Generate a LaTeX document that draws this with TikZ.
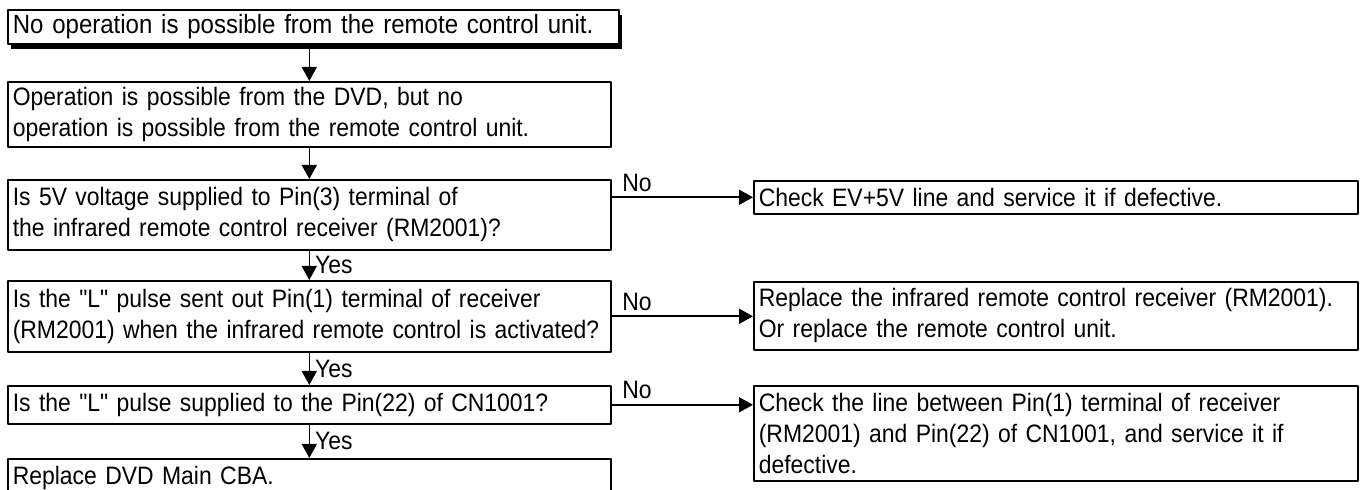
\documentclass[tikz,border=0pt]{standalone}
\usepackage{fontspec}
\setmainfont{Liberation Sans}[Ligatures=TeXOff, FakeStretch=0.91]
\usetikzlibrary{arrows.meta,shadows}
\tikzset{
	box/.style={draw, fill=white, line width=0.8pt, anchor=north west, align=left, inner xsep=2.5pt, inner ysep=0pt, text width=296.5pt, font=\fontsize{12.6}{15.4}\selectfont},
	rbox/.style={box, text width=297pt},
	lbl/.style={inner sep=2.5pt, font=\fontsize{12.6}{14}\selectfont}
}
\begin{document}
\begin{tikzpicture}[x=0.5pt, y=-0.5pt, line join=round, line width=0.8pt, >={Triangle[length=7pt,width=7.5pt]}]
	\useasboundingbox (0,0) rectangle (1366,490);
	\clip (0,0) rectangle (1366,490);
	% left column
	\node[box, text width=300.5pt, minimum height=17pt, font=\fontsize{13.2}{15}\selectfont,
		drop shadow={shadow xshift=1.5pt, shadow yshift=-2.5pt, fill=black, opacity=1}] (start) at (7,9)
		{No operation is possible from the remote control unit.};
	\node[box, minimum height=32.5pt] (dvd) at (7,81)
		{Operation is possible from the DVD, but no\\operation is possible from the remote control unit.};
	\node[box, minimum height=35pt] (pin3) at (7,179)
		{Is 5V voltage supplied to Pin(3) terminal of\\the infrared remote control receiver (RM2001)?};
	\node[box, minimum height=35.5pt] (pin1) at (7,280)
		{Is the "L" pulse sent out Pin(1) terminal of receiver\\(RM2001) when the infrared remote control is activated?};
	\node[box, minimum height=19pt] (pin22) at (7,385)
		{Is the "L" pulse supplied to the Pin(22) of CN1001?};
	\node[box, minimum height=19pt] (main) at (7,458)
		{Replace DVD Main CBA.};
	% right column
	\node[rbox, minimum height=16.5pt] (ev5v) at (753,180)
		{Check EV+5V line and service it if defective.};
	\node[rbox, minimum height=34pt] (rm) at (753,281)
		{Replace the infrared remote control receiver (RM2001).\\Or replace the remote control unit.};
	\node[rbox, minimum height=47.5pt] (line) at (753,385)
		{Check the line between Pin(1) terminal of receiver\\(RM2001) and Pin(22) of CN1001, and service it if\\defective.};
	% connectors
	\draw[->] (start.south -| dvd.north) -- (dvd.north);
	\draw[->] (dvd.south) -- (pin3.north);
	\draw[->] (pin3.south) -- node[lbl, right]{Yes} (pin1.north);
	\draw[->] (pin1.south) -- node[lbl, right]{Yes} (pin22.north);
	\draw[->] (pin22.south) -- node[lbl, right]{Yes} (main.north);
	\draw[->] (pin3.east |- ev5v.west) -- node[lbl, above, pos=0.18]{No} (ev5v.west);
	\draw[->] (pin1.east) -- node[lbl, above, pos=0.18]{No} (pin1.east -| rm.west);
	\draw[->] (pin22.east) -- node[lbl, above, pos=0.18]{No} (pin22.east -| line.west);
\end{tikzpicture}
\end{document}
